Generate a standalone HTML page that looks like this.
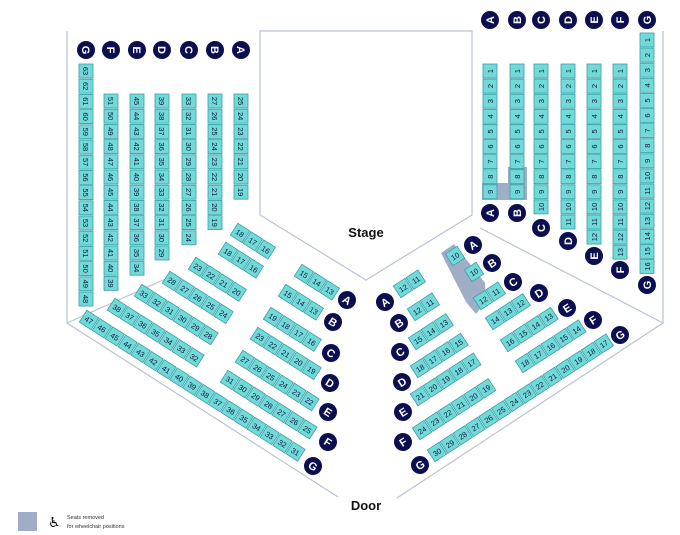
<!DOCTYPE html>
<html><head><meta charset="utf-8"><style>
html,body{margin:0;padding:0;background:#fff;}
svg{display:block;}
.s rect{fill:#72d9d9;stroke:#3a9fa8;stroke-width:.8;}
.s text{font-family:"Liberation Sans",sans-serif;font-size:7.5px;fill:#0d1a3a;text-anchor:middle;}
.l circle{fill:#0b0f4f;}
.l text{font-family:"Liberation Sans",sans-serif;font-size:11px;font-weight:bold;fill:#fff;text-anchor:middle;}
.w{fill:none;stroke:#b9c3d6;stroke-width:1.2;}
</style></head><body>
<svg width="680" height="535" viewBox="0 0 680 535" xmlns="http://www.w3.org/2000/svg">
<!-- walls -->
<polyline class="w" points="260,215 260,31 472,31 472,215 366,280 260,215"/>
<polyline class="w" points="67,31 67,323 338,497"/>
<polyline class="w" points="663,31 663,323 397,498"/>
<line class="w" x1="67" y1="323" x2="170" y2="277"/>
<line class="w" x1="480" y1="228" x2="663" y2="323"/>
<!-- wheelchair grey -->
<polygon points="482,183 508,183 508,167 527,167 527,200 482,200" fill="#9fadc6"/>
<polygon points="441,253 454,244 485,283 486,301 476,314 466,302" fill="#9fadc6"/>
<text x="366" y="237" font-family="Liberation Sans,sans-serif" font-size="13" font-weight="bold" text-anchor="middle" fill="#111">Stage</text>
<text x="366" y="510" font-family="Liberation Sans,sans-serif" font-size="13" font-weight="bold" text-anchor="middle" fill="#111">Door</text>
<rect x="18" y="512" width="19" height="19" fill="#9fadc6"/>
<text x="48" y="527" font-family="DejaVu Sans,sans-serif" font-size="14" fill="#111">♿</text>
<text x="67" y="519" font-family="Liberation Sans,sans-serif" font-size="5.5" fill="#333">Seats removed</text>
<text x="67" y="528" font-family="Liberation Sans,sans-serif" font-size="5.5" fill="#333">for wheelchair positions</text>

<!-- left column letters -->
<g class="l">
<g transform="translate(86,50) rotate(90)"><circle r="9"/><text y="4">G</text></g>
<g transform="translate(111,50) rotate(90)"><circle r="9"/><text y="4">F</text></g>
<g transform="translate(137,50) rotate(90)"><circle r="9"/><text y="4">E</text></g>
<g transform="translate(162,50) rotate(90)"><circle r="9"/><text y="4">D</text></g>
<g transform="translate(189,50) rotate(90)"><circle r="9"/><text y="4">C</text></g>
<g transform="translate(215,50) rotate(90)"><circle r="9"/><text y="4">B</text></g>
<g transform="translate(241,50) rotate(90)"><circle r="9"/><text y="4">A</text></g>
<!-- right top -->
<g transform="translate(490,20) rotate(-90)"><circle r="9"/><text y="4">A</text></g>
<g transform="translate(517,20) rotate(-90)"><circle r="9"/><text y="4">B</text></g>
<g transform="translate(541,20) rotate(-90)"><circle r="9"/><text y="4">C</text></g>
<g transform="translate(568,20) rotate(-90)"><circle r="9"/><text y="4">D</text></g>
<g transform="translate(594,20) rotate(-90)"><circle r="9"/><text y="4">E</text></g>
<g transform="translate(620,20) rotate(-90)"><circle r="9"/><text y="4">F</text></g>
<g transform="translate(647,20) rotate(-90)"><circle r="9"/><text y="4">G</text></g>
<!-- right column bottom -->
<g transform="translate(490,213) rotate(-90)"><circle r="9"/><text y="4">A</text></g>
<g transform="translate(517,213) rotate(-90)"><circle r="9"/><text y="4">B</text></g>
<g transform="translate(541,228) rotate(-90)"><circle r="9"/><text y="4">C</text></g>
<g transform="translate(568,241) rotate(-90)"><circle r="9"/><text y="4">D</text></g>
<g transform="translate(594,256) rotate(-90)"><circle r="9"/><text y="4">E</text></g>
<g transform="translate(620,270) rotate(-90)"><circle r="9"/><text y="4">F</text></g>
<g transform="translate(647,285) rotate(-90)"><circle r="9"/><text y="4">G</text></g>
<!-- left diag labels -->
<g transform="translate(347,300) rotate(32.5)"><circle r="9"/><text y="4">A</text></g>
<g transform="translate(333,322) rotate(32.5)"><circle r="9"/><text y="4">B</text></g>
<g transform="translate(331,353) rotate(32.5)"><circle r="9"/><text y="4">C</text></g>
<g transform="translate(330,383) rotate(32.5)"><circle r="9"/><text y="4">D</text></g>
<g transform="translate(328,412) rotate(32.5)"><circle r="9"/><text y="4">E</text></g>
<g transform="translate(328,442) rotate(32.5)"><circle r="9"/><text y="4">F</text></g>
<g transform="translate(313,466) rotate(32.5)"><circle r="9"/><text y="4">G</text></g>
<!-- right lower labels -->
<g transform="translate(385,302) rotate(-33)"><circle r="9"/><text y="4">A</text></g>
<g transform="translate(399,323) rotate(-33)"><circle r="9"/><text y="4">B</text></g>
<g transform="translate(400,352) rotate(-33)"><circle r="9"/><text y="4">C</text></g>
<g transform="translate(402,382) rotate(-33)"><circle r="9"/><text y="4">D</text></g>
<g transform="translate(403,412) rotate(-33)"><circle r="9"/><text y="4">E</text></g>
<g transform="translate(403,442) rotate(-33)"><circle r="9"/><text y="4">F</text></g>
<g transform="translate(420,465) rotate(-33)"><circle r="9"/><text y="4">G</text></g>
<!-- right upper labels -->
<g transform="translate(473,245) rotate(-33)"><circle r="9"/><text y="4">A</text></g>
<g transform="translate(492,263) rotate(-33)"><circle r="9"/><text y="4">B</text></g>
<g transform="translate(513,282) rotate(-33)"><circle r="9"/><text y="4">C</text></g>
<g transform="translate(539,293) rotate(-33)"><circle r="9"/><text y="4">D</text></g>
<g transform="translate(567,308) rotate(-33)"><circle r="9"/><text y="4">E</text></g>
<g transform="translate(593,320) rotate(-33)"><circle r="9"/><text y="4">F</text></g>
<g transform="translate(620,335) rotate(-33)"><circle r="9"/><text y="4">G</text></g>
</g>

<!-- LEFT VERTICAL COLUMNS (pitch 15.2) -->
<g class="s" transform="translate(86,71) rotate(90)">
<rect x="-7" y="-7" width="14" height="14"/><text x="0" y="3">63</text>
<rect x="8.2" y="-7" width="14" height="14"/><text x="15.2" y="3">62</text>
<rect x="23.4" y="-7" width="14" height="14"/><text x="30.4" y="3">61</text>
<rect x="38.6" y="-7" width="14" height="14"/><text x="45.6" y="3">60</text>
<rect x="53.8" y="-7" width="14" height="14"/><text x="60.8" y="3">59</text>
<rect x="69" y="-7" width="14" height="14"/><text x="76" y="3">58</text>
<rect x="84.2" y="-7" width="14" height="14"/><text x="91.2" y="3">57</text>
<rect x="99.4" y="-7" width="14" height="14"/><text x="106.4" y="3">56</text>
<rect x="114.6" y="-7" width="14" height="14"/><text x="121.6" y="3">55</text>
<rect x="129.8" y="-7" width="14" height="14"/><text x="136.8" y="3">54</text>
<rect x="145" y="-7" width="14" height="14"/><text x="152" y="3">53</text>
<rect x="160.2" y="-7" width="14" height="14"/><text x="167.2" y="3">52</text>
<rect x="175.4" y="-7" width="14" height="14"/><text x="182.4" y="3">51</text>
<rect x="190.6" y="-7" width="14" height="14"/><text x="197.6" y="3">50</text>
<rect x="205.8" y="-7" width="14" height="14"/><text x="212.8" y="3">49</text>
<rect x="221" y="-7" width="14" height="14"/><text x="228" y="3">48</text>
</g>
<g class="s" transform="translate(111,101) rotate(90)">
<rect x="-7" y="-7" width="14" height="14"/><text x="0" y="3">51</text>
<rect x="8.2" y="-7" width="14" height="14"/><text x="15.2" y="3">50</text>
<rect x="23.4" y="-7" width="14" height="14"/><text x="30.4" y="3">49</text>
<rect x="38.6" y="-7" width="14" height="14"/><text x="45.6" y="3">48</text>
<rect x="53.8" y="-7" width="14" height="14"/><text x="60.8" y="3">47</text>
<rect x="69" y="-7" width="14" height="14"/><text x="76" y="3">46</text>
<rect x="84.2" y="-7" width="14" height="14"/><text x="91.2" y="3">45</text>
<rect x="99.4" y="-7" width="14" height="14"/><text x="106.4" y="3">44</text>
<rect x="114.6" y="-7" width="14" height="14"/><text x="121.6" y="3">43</text>
<rect x="129.8" y="-7" width="14" height="14"/><text x="136.8" y="3">42</text>
<rect x="145" y="-7" width="14" height="14"/><text x="152" y="3">41</text>
<rect x="160.2" y="-7" width="14" height="14"/><text x="167.2" y="3">40</text>
<rect x="175.4" y="-7" width="14" height="14"/><text x="182.4" y="3">39</text>
</g>
<g class="s" transform="translate(137,101) rotate(90)">
<rect x="-7" y="-7" width="14" height="14"/><text x="0" y="3">45</text>
<rect x="8.2" y="-7" width="14" height="14"/><text x="15.2" y="3">44</text>
<rect x="23.4" y="-7" width="14" height="14"/><text x="30.4" y="3">43</text>
<rect x="38.6" y="-7" width="14" height="14"/><text x="45.6" y="3">42</text>
<rect x="53.8" y="-7" width="14" height="14"/><text x="60.8" y="3">41</text>
<rect x="69" y="-7" width="14" height="14"/><text x="76" y="3">40</text>
<rect x="84.2" y="-7" width="14" height="14"/><text x="91.2" y="3">39</text>
<rect x="99.4" y="-7" width="14" height="14"/><text x="106.4" y="3">38</text>
<rect x="114.6" y="-7" width="14" height="14"/><text x="121.6" y="3">37</text>
<rect x="129.8" y="-7" width="14" height="14"/><text x="136.8" y="3">36</text>
<rect x="145" y="-7" width="14" height="14"/><text x="152" y="3">35</text>
<rect x="160.2" y="-7" width="14" height="14"/><text x="167.2" y="3">34</text>
</g>
<g class="s" transform="translate(162,101) rotate(90)">
<rect x="-7" y="-7" width="14" height="14"/><text x="0" y="3">39</text>
<rect x="8.2" y="-7" width="14" height="14"/><text x="15.2" y="3">38</text>
<rect x="23.4" y="-7" width="14" height="14"/><text x="30.4" y="3">37</text>
<rect x="38.6" y="-7" width="14" height="14"/><text x="45.6" y="3">36</text>
<rect x="53.8" y="-7" width="14" height="14"/><text x="60.8" y="3">35</text>
<rect x="69" y="-7" width="14" height="14"/><text x="76" y="3">34</text>
<rect x="84.2" y="-7" width="14" height="14"/><text x="91.2" y="3">33</text>
<rect x="99.4" y="-7" width="14" height="14"/><text x="106.4" y="3">32</text>
<rect x="114.6" y="-7" width="14" height="14"/><text x="121.6" y="3">31</text>
<rect x="129.8" y="-7" width="14" height="14"/><text x="136.8" y="3">30</text>
<rect x="145" y="-7" width="14" height="14"/><text x="152" y="3">29</text>
</g>
<g class="s" transform="translate(189,101) rotate(90)">
<rect x="-7" y="-7" width="14" height="14"/><text x="0" y="3">33</text>
<rect x="8.2" y="-7" width="14" height="14"/><text x="15.2" y="3">32</text>
<rect x="23.4" y="-7" width="14" height="14"/><text x="30.4" y="3">31</text>
<rect x="38.6" y="-7" width="14" height="14"/><text x="45.6" y="3">30</text>
<rect x="53.8" y="-7" width="14" height="14"/><text x="60.8" y="3">29</text>
<rect x="69" y="-7" width="14" height="14"/><text x="76" y="3">28</text>
<rect x="84.2" y="-7" width="14" height="14"/><text x="91.2" y="3">27</text>
<rect x="99.4" y="-7" width="14" height="14"/><text x="106.4" y="3">26</text>
<rect x="114.6" y="-7" width="14" height="14"/><text x="121.6" y="3">25</text>
<rect x="129.8" y="-7" width="14" height="14"/><text x="136.8" y="3">24</text>
</g>
<g class="s" transform="translate(215,101) rotate(90)">
<rect x="-7" y="-7" width="14" height="14"/><text x="0" y="3">27</text>
<rect x="8.2" y="-7" width="14" height="14"/><text x="15.2" y="3">26</text>
<rect x="23.4" y="-7" width="14" height="14"/><text x="30.4" y="3">25</text>
<rect x="38.6" y="-7" width="14" height="14"/><text x="45.6" y="3">24</text>
<rect x="53.8" y="-7" width="14" height="14"/><text x="60.8" y="3">23</text>
<rect x="69" y="-7" width="14" height="14"/><text x="76" y="3">22</text>
<rect x="84.2" y="-7" width="14" height="14"/><text x="91.2" y="3">21</text>
<rect x="99.4" y="-7" width="14" height="14"/><text x="106.4" y="3">20</text>
<rect x="114.6" y="-7" width="14" height="14"/><text x="121.6" y="3">19</text>
</g>
<g class="s" transform="translate(241,101) rotate(90)">
<rect x="-7" y="-7" width="14" height="14"/><text x="0" y="3">25</text>
<rect x="8.2" y="-7" width="14" height="14"/><text x="15.2" y="3">24</text>
<rect x="23.4" y="-7" width="14" height="14"/><text x="30.4" y="3">23</text>
<rect x="38.6" y="-7" width="14" height="14"/><text x="45.6" y="3">22</text>
<rect x="53.8" y="-7" width="14" height="14"/><text x="60.8" y="3">21</text>
<rect x="69" y="-7" width="14" height="14"/><text x="76" y="3">20</text>
<rect x="84.2" y="-7" width="14" height="14"/><text x="91.2" y="3">19</text>
</g>

<!-- RIGHT VERTICAL COLUMNS (pitch 15.1), text rotated -90 -->
<g class="s" transform="translate(490,71)">
<rect x="-7" y="-7" width="14" height="14"/><text transform="translate(0,0) rotate(-90)" y="3">1</text>
<rect x="-7" y="8.1" width="14" height="14"/><text transform="translate(0,15.1) rotate(-90)" y="3">2</text>
<rect x="-7" y="23.2" width="14" height="14"/><text transform="translate(0,30.2) rotate(-90)" y="3">3</text>
<rect x="-7" y="38.3" width="14" height="14"/><text transform="translate(0,45.3) rotate(-90)" y="3">4</text>
<rect x="-7" y="53.4" width="14" height="14"/><text transform="translate(0,60.4) rotate(-90)" y="3">5</text>
<rect x="-7" y="68.5" width="14" height="14"/><text transform="translate(0,75.5) rotate(-90)" y="3">6</text>
<rect x="-7" y="83.6" width="14" height="14"/><text transform="translate(0,90.6) rotate(-90)" y="3">7</text>
<rect x="-7" y="98.7" width="14" height="14"/><text transform="translate(0,105.7) rotate(-90)" y="3">8</text>
<rect x="-7" y="113.8" width="14" height="14"/><text transform="translate(0,120.8) rotate(-90)" y="3">9</text>
</g>
<g class="s" transform="translate(517,71)">
<rect x="-7" y="-7" width="14" height="14"/><text transform="translate(0,0) rotate(-90)" y="3">1</text>
<rect x="-7" y="8.1" width="14" height="14"/><text transform="translate(0,15.1) rotate(-90)" y="3">2</text>
<rect x="-7" y="23.2" width="14" height="14"/><text transform="translate(0,30.2) rotate(-90)" y="3">3</text>
<rect x="-7" y="38.3" width="14" height="14"/><text transform="translate(0,45.3) rotate(-90)" y="3">4</text>
<rect x="-7" y="53.4" width="14" height="14"/><text transform="translate(0,60.4) rotate(-90)" y="3">5</text>
<rect x="-7" y="68.5" width="14" height="14"/><text transform="translate(0,75.5) rotate(-90)" y="3">6</text>
<rect x="-7" y="83.6" width="14" height="14"/><text transform="translate(0,90.6) rotate(-90)" y="3">7</text>
<rect x="-7" y="98.7" width="14" height="14"/><text transform="translate(0,105.7) rotate(-90)" y="3">8</text>
<rect x="-7" y="113.8" width="14" height="14"/><text transform="translate(0,120.8) rotate(-90)" y="3">9</text>
</g>
<g class="s" transform="translate(541,71)">
<rect x="-7" y="-7" width="14" height="14"/><text transform="translate(0,0) rotate(-90)" y="3">1</text>
<rect x="-7" y="8.1" width="14" height="14"/><text transform="translate(0,15.1) rotate(-90)" y="3">2</text>
<rect x="-7" y="23.2" width="14" height="14"/><text transform="translate(0,30.2) rotate(-90)" y="3">3</text>
<rect x="-7" y="38.3" width="14" height="14"/><text transform="translate(0,45.3) rotate(-90)" y="3">4</text>
<rect x="-7" y="53.4" width="14" height="14"/><text transform="translate(0,60.4) rotate(-90)" y="3">5</text>
<rect x="-7" y="68.5" width="14" height="14"/><text transform="translate(0,75.5) rotate(-90)" y="3">6</text>
<rect x="-7" y="83.6" width="14" height="14"/><text transform="translate(0,90.6) rotate(-90)" y="3">7</text>
<rect x="-7" y="98.7" width="14" height="14"/><text transform="translate(0,105.7) rotate(-90)" y="3">8</text>
<rect x="-7" y="113.8" width="14" height="14"/><text transform="translate(0,120.8) rotate(-90)" y="3">9</text>
<rect x="-7" y="128.9" width="14" height="14"/><text transform="translate(0,135.9) rotate(-90)" y="3">10</text>
</g>
<g class="s" transform="translate(568,71)">
<rect x="-7" y="-7" width="14" height="14"/><text transform="translate(0,0) rotate(-90)" y="3">1</text>
<rect x="-7" y="8.1" width="14" height="14"/><text transform="translate(0,15.1) rotate(-90)" y="3">2</text>
<rect x="-7" y="23.2" width="14" height="14"/><text transform="translate(0,30.2) rotate(-90)" y="3">3</text>
<rect x="-7" y="38.3" width="14" height="14"/><text transform="translate(0,45.3) rotate(-90)" y="3">4</text>
<rect x="-7" y="53.4" width="14" height="14"/><text transform="translate(0,60.4) rotate(-90)" y="3">5</text>
<rect x="-7" y="68.5" width="14" height="14"/><text transform="translate(0,75.5) rotate(-90)" y="3">6</text>
<rect x="-7" y="83.6" width="14" height="14"/><text transform="translate(0,90.6) rotate(-90)" y="3">7</text>
<rect x="-7" y="98.7" width="14" height="14"/><text transform="translate(0,105.7) rotate(-90)" y="3">8</text>
<rect x="-7" y="113.8" width="14" height="14"/><text transform="translate(0,120.8) rotate(-90)" y="3">9</text>
<rect x="-7" y="128.9" width="14" height="14"/><text transform="translate(0,135.9) rotate(-90)" y="3">10</text>
<rect x="-7" y="144" width="14" height="14"/><text transform="translate(0,151) rotate(-90)" y="3">11</text>
</g>
<g class="s" transform="translate(594,71)">
<rect x="-7" y="-7" width="14" height="14"/><text transform="translate(0,0) rotate(-90)" y="3">1</text>
<rect x="-7" y="8.1" width="14" height="14"/><text transform="translate(0,15.1) rotate(-90)" y="3">2</text>
<rect x="-7" y="23.2" width="14" height="14"/><text transform="translate(0,30.2) rotate(-90)" y="3">3</text>
<rect x="-7" y="38.3" width="14" height="14"/><text transform="translate(0,45.3) rotate(-90)" y="3">4</text>
<rect x="-7" y="53.4" width="14" height="14"/><text transform="translate(0,60.4) rotate(-90)" y="3">5</text>
<rect x="-7" y="68.5" width="14" height="14"/><text transform="translate(0,75.5) rotate(-90)" y="3">6</text>
<rect x="-7" y="83.6" width="14" height="14"/><text transform="translate(0,90.6) rotate(-90)" y="3">7</text>
<rect x="-7" y="98.7" width="14" height="14"/><text transform="translate(0,105.7) rotate(-90)" y="3">8</text>
<rect x="-7" y="113.8" width="14" height="14"/><text transform="translate(0,120.8) rotate(-90)" y="3">9</text>
<rect x="-7" y="128.9" width="14" height="14"/><text transform="translate(0,135.9) rotate(-90)" y="3">10</text>
<rect x="-7" y="144" width="14" height="14"/><text transform="translate(0,151) rotate(-90)" y="3">11</text>
<rect x="-7" y="159.1" width="14" height="14"/><text transform="translate(0,166.1) rotate(-90)" y="3">12</text>
</g>
<g class="s" transform="translate(620,71)">
<rect x="-7" y="-7" width="14" height="14"/><text transform="translate(0,0) rotate(-90)" y="3">1</text>
<rect x="-7" y="8.1" width="14" height="14"/><text transform="translate(0,15.1) rotate(-90)" y="3">2</text>
<rect x="-7" y="23.2" width="14" height="14"/><text transform="translate(0,30.2) rotate(-90)" y="3">3</text>
<rect x="-7" y="38.3" width="14" height="14"/><text transform="translate(0,45.3) rotate(-90)" y="3">4</text>
<rect x="-7" y="53.4" width="14" height="14"/><text transform="translate(0,60.4) rotate(-90)" y="3">5</text>
<rect x="-7" y="68.5" width="14" height="14"/><text transform="translate(0,75.5) rotate(-90)" y="3">6</text>
<rect x="-7" y="83.6" width="14" height="14"/><text transform="translate(0,90.6) rotate(-90)" y="3">7</text>
<rect x="-7" y="98.7" width="14" height="14"/><text transform="translate(0,105.7) rotate(-90)" y="3">8</text>
<rect x="-7" y="113.8" width="14" height="14"/><text transform="translate(0,120.8) rotate(-90)" y="3">9</text>
<rect x="-7" y="128.9" width="14" height="14"/><text transform="translate(0,135.9) rotate(-90)" y="3">10</text>
<rect x="-7" y="144" width="14" height="14"/><text transform="translate(0,151) rotate(-90)" y="3">11</text>
<rect x="-7" y="159.1" width="14" height="14"/><text transform="translate(0,166.1) rotate(-90)" y="3">12</text>
<rect x="-7" y="174.2" width="14" height="14"/><text transform="translate(0,181.2) rotate(-90)" y="3">13</text>
</g>
<g class="s" transform="translate(647,40)">
<rect x="-7" y="-7" width="14" height="14"/><text transform="translate(0,0) rotate(-90)" y="3">1</text>
<rect x="-7" y="8.1" width="14" height="14"/><text transform="translate(0,15.1) rotate(-90)" y="3">2</text>
<rect x="-7" y="23.2" width="14" height="14"/><text transform="translate(0,30.2) rotate(-90)" y="3">3</text>
<rect x="-7" y="38.3" width="14" height="14"/><text transform="translate(0,45.3) rotate(-90)" y="3">4</text>
<rect x="-7" y="53.4" width="14" height="14"/><text transform="translate(0,60.4) rotate(-90)" y="3">5</text>
<rect x="-7" y="68.5" width="14" height="14"/><text transform="translate(0,75.5) rotate(-90)" y="3">6</text>
<rect x="-7" y="83.6" width="14" height="14"/><text transform="translate(0,90.6) rotate(-90)" y="3">7</text>
<rect x="-7" y="98.7" width="14" height="14"/><text transform="translate(0,105.7) rotate(-90)" y="3">8</text>
<rect x="-7" y="113.8" width="14" height="14"/><text transform="translate(0,120.8) rotate(-90)" y="3">9</text>
<rect x="-7" y="128.9" width="14" height="14"/><text transform="translate(0,135.9) rotate(-90)" y="3">10</text>
<rect x="-7" y="144" width="14" height="14"/><text transform="translate(0,151) rotate(-90)" y="3">11</text>
<rect x="-7" y="159.1" width="14" height="14"/><text transform="translate(0,166.1) rotate(-90)" y="3">12</text>
<rect x="-7" y="174.2" width="14" height="14"/><text transform="translate(0,181.2) rotate(-90)" y="3">13</text>
<rect x="-7" y="189.3" width="14" height="14"/><text transform="translate(0,196.3) rotate(-90)" y="3">14</text>
<rect x="-7" y="204.4" width="14" height="14"/><text transform="translate(0,211.4) rotate(-90)" y="3">15</text>
<rect x="-7" y="219.5" width="14" height="14"/><text transform="translate(0,226.5) rotate(-90)" y="3">16</text>
</g>

<!-- LEFT DIAGONAL: upper-left block (angle 32.5, pitch 15.3) -->
<g class="s" transform="translate(240,233) rotate(32.5)">
<rect x="-7" y="-7" width="14" height="14"/><text x="0" y="3">18</text>
<rect x="8.3" y="-7" width="14" height="14"/><text x="15.3" y="3">17</text>
<rect x="23.6" y="-7" width="14" height="14"/><text x="30.6" y="3">16</text>
</g>
<g class="s" transform="translate(228,252) rotate(32.5)">
<rect x="-7" y="-7" width="14" height="14"/><text x="0" y="3">18</text>
<rect x="8.3" y="-7" width="14" height="14"/><text x="15.3" y="3">17</text>
<rect x="23.6" y="-7" width="14" height="14"/><text x="30.6" y="3">16</text>
</g>
<g class="s" transform="translate(198,267) rotate(32.5)">
<rect x="-7" y="-7" width="14" height="14"/><text x="0" y="3">23</text>
<rect x="8.3" y="-7" width="14" height="14"/><text x="15.3" y="3">22</text>
<rect x="23.6" y="-7" width="14" height="14"/><text x="30.6" y="3">21</text>
<rect x="38.9" y="-7" width="14" height="14"/><text x="45.9" y="3">20</text>
</g>
<g class="s" transform="translate(172,281) rotate(32.5)">
<rect x="-7" y="-7" width="14" height="14"/><text x="0" y="3">28</text>
<rect x="8.3" y="-7" width="14" height="14"/><text x="15.3" y="3">27</text>
<rect x="23.6" y="-7" width="14" height="14"/><text x="30.6" y="3">26</text>
<rect x="38.9" y="-7" width="14" height="14"/><text x="45.9" y="3">25</text>
<rect x="54.2" y="-7" width="14" height="14"/><text x="61.2" y="3">24</text>
</g>
<g class="s" transform="translate(144,294) rotate(32.5)">
<rect x="-7" y="-7" width="14" height="14"/><text x="0" y="3">33</text>
<rect x="8.3" y="-7" width="14" height="14"/><text x="15.3" y="3">32</text>
<rect x="23.6" y="-7" width="14" height="14"/><text x="30.6" y="3">31</text>
<rect x="38.9" y="-7" width="14" height="14"/><text x="45.9" y="3">30</text>
<rect x="54.2" y="-7" width="14" height="14"/><text x="61.2" y="3">29</text>
<rect x="69.5" y="-7" width="14" height="14"/><text x="76.5" y="3">28</text>
</g>
<g class="s" transform="translate(117,308) rotate(32.5)">
<rect x="-7" y="-7" width="14" height="14"/><text x="0" y="3">38</text>
<rect x="8.3" y="-7" width="14" height="14"/><text x="15.3" y="3">37</text>
<rect x="23.6" y="-7" width="14" height="14"/><text x="30.6" y="3">36</text>
<rect x="38.9" y="-7" width="14" height="14"/><text x="45.9" y="3">35</text>
<rect x="54.2" y="-7" width="14" height="14"/><text x="61.2" y="3">34</text>
<rect x="69.5" y="-7" width="14" height="14"/><text x="76.5" y="3">33</text>
<rect x="84.8" y="-7" width="14" height="14"/><text x="91.8" y="3">32</text>
</g>
<g class="s" transform="translate(89,320) rotate(32.5)">
<rect x="-7" y="-7" width="14" height="14"/><text x="0" y="3">47</text>
<rect x="8.3" y="-7" width="14" height="14"/><text x="15.3" y="3">46</text>
<rect x="23.6" y="-7" width="14" height="14"/><text x="30.6" y="3">45</text>
<rect x="38.9" y="-7" width="14" height="14"/><text x="45.9" y="3">44</text>
<rect x="54.2" y="-7" width="14" height="14"/><text x="61.2" y="3">43</text>
<rect x="69.5" y="-7" width="14" height="14"/><text x="76.5" y="3">42</text>
<rect x="84.8" y="-7" width="14" height="14"/><text x="91.8" y="3">41</text>
<rect x="100.1" y="-7" width="14" height="14"/><text x="107.1" y="3">40</text>
<rect x="115.4" y="-7" width="14" height="14"/><text x="122.4" y="3">39</text>
<rect x="130.7" y="-7" width="14" height="14"/><text x="137.7" y="3">38</text>
<rect x="146" y="-7" width="14" height="14"/><text x="153" y="3">37</text>
<rect x="161.3" y="-7" width="14" height="14"/><text x="168.3" y="3">36</text>
<rect x="176.6" y="-7" width="14" height="14"/><text x="183.6" y="3">35</text>
<rect x="191.9" y="-7" width="14" height="14"/><text x="198.9" y="3">34</text>
<rect x="207.2" y="-7" width="14" height="14"/><text x="214.2" y="3">33</text>
<rect x="222.5" y="-7" width="14" height="14"/><text x="229.5" y="3">32</text>
<rect x="237.8" y="-7" width="14" height="14"/><text x="244.8" y="3">31</text>
</g>
<!-- left near-aisle block -->
<g class="s" transform="translate(304,274) rotate(32.5)">
<rect x="-7" y="-7" width="14" height="14"/><text x="0" y="3">15</text>
<rect x="8.3" y="-7" width="14" height="14"/><text x="15.3" y="3">14</text>
<rect x="23.6" y="-7" width="14" height="14"/><text x="30.6" y="3">13</text>
</g>
<g class="s" transform="translate(288,294) rotate(32.5)">
<rect x="-7" y="-7" width="14" height="14"/><text x="0" y="3">15</text>
<rect x="8.3" y="-7" width="14" height="14"/><text x="15.3" y="3">14</text>
<rect x="23.6" y="-7" width="14" height="14"/><text x="30.6" y="3">13</text>
</g>
<g class="s" transform="translate(273,317) rotate(32.5)">
<rect x="-7" y="-7" width="14" height="14"/><text x="0" y="3">19</text>
<rect x="8.3" y="-7" width="14" height="14"/><text x="15.3" y="3">18</text>
<rect x="23.6" y="-7" width="14" height="14"/><text x="30.6" y="3">17</text>
<rect x="38.9" y="-7" width="14" height="14"/><text x="45.9" y="3">16</text>
</g>
<g class="s" transform="translate(260,337) rotate(32.5)">
<rect x="-7" y="-7" width="14" height="14"/><text x="0" y="3">23</text>
<rect x="8.3" y="-7" width="14" height="14"/><text x="15.3" y="3">22</text>
<rect x="23.6" y="-7" width="14" height="14"/><text x="30.6" y="3">21</text>
<rect x="38.9" y="-7" width="14" height="14"/><text x="45.9" y="3">20</text>
<rect x="54.2" y="-7" width="14" height="14"/><text x="61.2" y="3">19</text>
</g>
<g class="s" transform="translate(245,360) rotate(32.5)">
<rect x="-7" y="-7" width="14" height="14"/><text x="0" y="3">27</text>
<rect x="8.3" y="-7" width="14" height="14"/><text x="15.3" y="3">26</text>
<rect x="23.6" y="-7" width="14" height="14"/><text x="30.6" y="3">25</text>
<rect x="38.9" y="-7" width="14" height="14"/><text x="45.9" y="3">24</text>
<rect x="54.2" y="-7" width="14" height="14"/><text x="61.2" y="3">23</text>
<rect x="69.5" y="-7" width="14" height="14"/><text x="76.5" y="3">22</text>
</g>
<g class="s" transform="translate(230,380) rotate(32.5)">
<rect x="-7" y="-7" width="14" height="14"/><text x="0" y="3">31</text>
<rect x="8.3" y="-7" width="14" height="14"/><text x="15.3" y="3">30</text>
<rect x="23.6" y="-7" width="14" height="14"/><text x="30.6" y="3">29</text>
<rect x="38.9" y="-7" width="14" height="14"/><text x="45.9" y="3">28</text>
<rect x="54.2" y="-7" width="14" height="14"/><text x="61.2" y="3">27</text>
<rect x="69.5" y="-7" width="14" height="14"/><text x="76.5" y="3">26</text>
<rect x="84.8" y="-7" width="14" height="14"/><text x="91.8" y="3">25</text>
</g>

<!-- RIGHT LOWER block (angle -33) -->
<g class="s" transform="translate(403,288) rotate(-33)">
<rect x="-7" y="-7" width="14" height="14"/><text x="0" y="3">12</text>
<rect x="8.3" y="-7" width="14" height="14"/><text x="15.3" y="3">11</text>
</g>
<g class="s" transform="translate(417,311) rotate(-33)">
<rect x="-7" y="-7" width="14" height="14"/><text x="0" y="3">12</text>
<rect x="8.3" y="-7" width="14" height="14"/><text x="15.3" y="3">11</text>
</g>
<g class="s" transform="translate(418,340) rotate(-33)">
<rect x="-7" y="-7" width="14" height="14"/><text x="0" y="3">15</text>
<rect x="8.3" y="-7" width="14" height="14"/><text x="15.3" y="3">14</text>
<rect x="23.6" y="-7" width="14" height="14"/><text x="30.6" y="3">13</text>
</g>
<g class="s" transform="translate(420,368) rotate(-33)">
<rect x="-7" y="-7" width="14" height="14"/><text x="0" y="3">18</text>
<rect x="8.3" y="-7" width="14" height="14"/><text x="15.3" y="3">17</text>
<rect x="23.6" y="-7" width="14" height="14"/><text x="30.6" y="3">16</text>
<rect x="38.9" y="-7" width="14" height="14"/><text x="45.9" y="3">15</text>
</g>
<g class="s" transform="translate(420,396) rotate(-33)">
<rect x="-7" y="-7" width="14" height="14"/><text x="0" y="3">21</text>
<rect x="8.3" y="-7" width="14" height="14"/><text x="15.3" y="3">20</text>
<rect x="23.6" y="-7" width="14" height="14"/><text x="30.6" y="3">19</text>
<rect x="38.9" y="-7" width="14" height="14"/><text x="45.9" y="3">18</text>
<rect x="54.2" y="-7" width="14" height="14"/><text x="61.2" y="3">17</text>
</g>
<g class="s" transform="translate(422,430) rotate(-33)">
<rect x="-7" y="-7" width="14" height="14"/><text x="0" y="3">24</text>
<rect x="8.3" y="-7" width="14" height="14"/><text x="15.3" y="3">23</text>
<rect x="23.6" y="-7" width="14" height="14"/><text x="30.6" y="3">22</text>
<rect x="38.9" y="-7" width="14" height="14"/><text x="45.9" y="3">21</text>
<rect x="54.2" y="-7" width="14" height="14"/><text x="61.2" y="3">20</text>
<rect x="69.5" y="-7" width="14" height="14"/><text x="76.5" y="3">19</text>
</g>
<g class="s" transform="translate(437,452) rotate(-33)">
<rect x="-7" y="-7" width="14" height="14"/><text x="0" y="3">30</text>
<rect x="8.3" y="-7" width="14" height="14"/><text x="15.3" y="3">29</text>
<rect x="23.6" y="-7" width="14" height="14"/><text x="30.6" y="3">28</text>
<rect x="38.9" y="-7" width="14" height="14"/><text x="45.9" y="3">27</text>
<rect x="54.2" y="-7" width="14" height="14"/><text x="61.2" y="3">26</text>
<rect x="69.5" y="-7" width="14" height="14"/><text x="76.5" y="3">25</text>
<rect x="84.8" y="-7" width="14" height="14"/><text x="91.8" y="3">24</text>
<rect x="100.1" y="-7" width="14" height="14"/><text x="107.1" y="3">23</text>
<rect x="115.4" y="-7" width="14" height="14"/><text x="122.4" y="3">22</text>
<rect x="130.7" y="-7" width="14" height="14"/><text x="137.7" y="3">21</text>
<rect x="146" y="-7" width="14" height="14"/><text x="153" y="3">20</text>
<rect x="161.3" y="-7" width="14" height="14"/><text x="168.3" y="3">19</text>
<rect x="176.6" y="-7" width="14" height="14"/><text x="183.6" y="3">18</text>
<rect x="191.9" y="-7" width="14" height="14"/><text x="198.9" y="3">17</text>
</g>
<!-- RIGHT UPPER block -->
<g class="s" transform="translate(455,256) rotate(-33)">
<rect x="-7" y="-7" width="14" height="14"/><text x="0" y="3">10</text>
</g>
<g class="s" transform="translate(474,272) rotate(-33)">
<rect x="-7" y="-7" width="14" height="14"/><text x="0" y="3">10</text>
</g>
<g class="s" transform="translate(483,300) rotate(-33)">
<rect x="-7" y="-7" width="14" height="14"/><text x="0" y="3">12</text>
<rect x="8.3" y="-7" width="14" height="14"/><text x="15.3" y="3">11</text>
</g>
<g class="s" transform="translate(495,320) rotate(-33)">
<rect x="-7" y="-7" width="14" height="14"/><text x="0" y="3">14</text>
<rect x="8.3" y="-7" width="14" height="14"/><text x="15.3" y="3">13</text>
<rect x="23.6" y="-7" width="14" height="14"/><text x="30.6" y="3">12</text>
</g>
<g class="s" transform="translate(510,342) rotate(-33)">
<rect x="-7" y="-7" width="14" height="14"/><text x="0" y="3">16</text>
<rect x="8.3" y="-7" width="14" height="14"/><text x="15.3" y="3">15</text>
<rect x="23.6" y="-7" width="14" height="14"/><text x="30.6" y="3">14</text>
<rect x="38.9" y="-7" width="14" height="14"/><text x="45.9" y="3">13</text>
</g>
<g class="s" transform="translate(525,363) rotate(-33)">
<rect x="-7" y="-7" width="14" height="14"/><text x="0" y="3">18</text>
<rect x="8.3" y="-7" width="14" height="14"/><text x="15.3" y="3">17</text>
<rect x="23.6" y="-7" width="14" height="14"/><text x="30.6" y="3">16</text>
<rect x="38.9" y="-7" width="14" height="14"/><text x="45.9" y="3">15</text>
<rect x="54.2" y="-7" width="14" height="14"/><text x="61.2" y="3">14</text>
</g>
</svg>
</body></html>
